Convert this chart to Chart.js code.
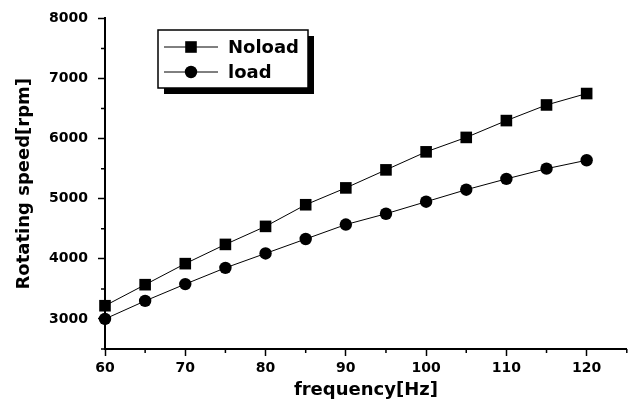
<!DOCTYPE html>
<html>
<head>
<meta charset="utf-8">
<script src="https://cdn.jsdelivr.net/npm/chart.js@4/dist/chart.umd.min.js"></script>
<style>
  html, body { margin: 0; padding: 0; background: #fff; }
  #wrap { width: 635px; height: 408px; position: relative; }
</style>
</head>
<body>
<div id="wrap"><canvas id="c" width="635" height="408"></canvas></div>
<script>
// ---- data ----
const frequency = [60, 65, 70, 75, 80, 85, 90, 95, 100, 105, 110, 115, 120];
const noload = [3220, 3570, 3920, 4240, 4540, 4900, 5180, 5480, 5780, 6020, 6300, 6560, 6750];
const load   = [3000, 3300, 3580, 3850, 4090, 4330, 4570, 4750, 4950, 5150, 5330, 5500, 5640];
const seriesNames = ['Noload', 'load'];
const xTicks = [60, 70, 80, 90, 100, 110, 120];
const xMinorTicks = [65, 75, 85, 95, 105, 115, 125];
const yTicks = [3000, 4000, 5000, 6000, 7000, 8000];
const yMinorTicks = [2500, 3500, 4500, 5500, 6500, 7500];
const xTitle = 'frequency[Hz]';
const yTitle = 'Rotating speed[rpm]';

const FONT = 'DejaVu Sans';

const minorTicks = {
  id: 'minorTicks',
  afterDraw(chart) {
    const ctx = chart.ctx;
    const xs = chart.scales.x, ys = chart.scales.y;
    ctx.save();
    ctx.strokeStyle = '#000';
    ctx.lineWidth = 1.5;
    ctx.beginPath();
    xMinorTicks.forEach(v => {
      const px = xs.getPixelForValue(v);
      ctx.moveTo(px, xs.top);
      ctx.lineTo(px, xs.top + 4);
    });
    yMinorTicks.forEach(v => {
      const py = ys.getPixelForValue(v);
      ctx.moveTo(ys.right, py);
      ctx.lineTo(ys.right - 4, py);
    });
    ctx.stroke();
    ctx.restore();
  }
};

const boxLegend = {
  id: 'boxLegend',
  afterDraw(chart) {
    const ctx = chart.ctx;
    const bx = 158, by = 30, bw = 150, bh = 58, sh = 6;
    ctx.save();
    ctx.fillStyle = '#000';
    ctx.fillRect(bx + sh, by + sh, bw, bh);
    ctx.fillStyle = '#fff';
    ctx.fillRect(bx, by, bw, bh);
    ctx.strokeStyle = '#000';
    ctx.lineWidth = 1.5;
    ctx.strokeRect(bx, by, bw, bh);
    const rows = [47, 72];
    chart.data.datasets.forEach((ds, i) => {
      const y = rows[i];
      ctx.strokeStyle = '#000';
      ctx.lineWidth = 1;
      ctx.beginPath();
      ctx.moveTo(164, y);
      ctx.lineTo(218, y);
      ctx.stroke();
      ctx.fillStyle = '#000';
      Chart.helpers.drawPoint(ctx, {
        pointStyle: ds.pointStyle,
        radius: ds.pointRadius,
        borderWidth: 0,
        rotation: 0
      }, 191, y);
      ctx.fillStyle = '#000';
      ctx.font = 'bold 18px "' + FONT + '"';
      ctx.textAlign = 'left';
      ctx.textBaseline = 'middle';
      ctx.fillText(ds.label, 228, y + 1);
    });
    ctx.restore();
  }
};

new Chart(document.getElementById('c'), {
  type: 'line',
  data: {
    datasets: [
      {
        label: seriesNames[0],
        data: frequency.map((f, i) => ({ x: f, y: noload[i] })),
        borderColor: '#000', backgroundColor: '#000', borderWidth: 1,
        pointStyle: 'rect', pointRadius: 8.2, pointBorderWidth: 0,
        pointBackgroundColor: '#000', tension: 0
      },
      {
        label: seriesNames[1],
        data: frequency.map((f, i) => ({ x: f, y: load[i] })),
        borderColor: '#000', backgroundColor: '#000', borderWidth: 1,
        pointStyle: 'circle', pointRadius: 6.2, pointBorderWidth: 0,
        pointBackgroundColor: '#000', tension: 0
      }
    ]
  },
  options: {
    responsive: false,
    animation: false,
    clip: false,
    layout: { padding: { top: 15, right: 7, left: 0, bottom: 0 } },
    plugins: { legend: { display: false }, tooltip: { enabled: false } },
    scales: {
      x: {
        type: 'linear', min: 60, max: 125,
        afterBuildTicks: s => { s.ticks = xTicks.map(v => ({ value: v })); },
        afterFit: s => { s.height = 59; },
        grid: { drawOnChartArea: false, drawTicks: true, tickLength: 7, tickWidth: 1.5, tickColor: '#000' },
        border: { display: true, color: '#000', width: 2 },
        ticks: { color: '#000', padding: 4, maxRotation: 0, callback: v => String(v),
                 font: { family: FONT, size: 14, weight: 'bold' } },
        title: { display: true, text: xTitle, color: '#000', padding: { top: 0, bottom: 7 },
                 font: { family: FONT, size: 18, weight: 'bold' } }
      },
      y: {
        type: 'linear', min: 2500, max: 8000,
        afterBuildTicks: s => { s.ticks = yTicks.map(v => ({ value: v })); },
        afterFit: s => { s.width = 105; },
        grid: { drawOnChartArea: false, drawTicks: true, tickLength: 7, tickWidth: 1.5, tickColor: '#000' },
        border: { display: true, color: '#000', width: 2 },
        ticks: { color: '#000', padding: 10, callback: v => String(v),
                 font: { family: FONT, size: 14, weight: 'bold' } },
        title: { display: true, text: yTitle, color: '#000', padding: { top: 14, bottom: 0 },
                 font: { family: FONT, size: 18, weight: 'bold' } }
      }
    }
  },
  plugins: [minorTicks, boxLegend]
});
</script>
</body>
</html>
